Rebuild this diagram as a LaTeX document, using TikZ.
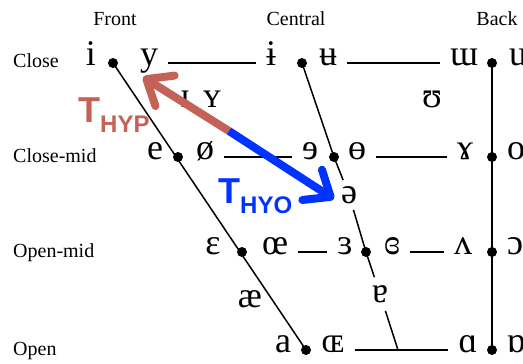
\documentclass[tikz,border=0pt]{standalone}
\usepackage{fontspec}
\setmainfont{Liberation Serif}
\newfontfamily\tagfont{Liberation Sans}
\usetikzlibrary{arrows.meta}
\definecolor{hypred}{RGB}{196,98,88}
\definecolor{hyoblue}{RGB}{0,51,255}
\begin{document}
\begin{tikzpicture}[x=1pt, y=-1pt,
      vow/.style={font=\fontsize{36}{36}\selectfont, anchor=mid, inner ysep=0pt, inner xsep=10pt},
      lbl/.style={font=\fontsize{20}{20}\selectfont, anchor=base west, inner sep=0pt},
      hdr/.style={font=\fontsize{20}{20}\selectfont, anchor=base, inner sep=0pt},
      ln/.style={line width=1.5pt},
      tlbl/.style={font=\tagfont\bfseries\fontsize{36}{36}\selectfont, anchor=base west, inner sep=0pt},
      hyparr/.style={draw=hypred, line width=8pt, -{Straight Barb[length=22pt, width=36pt, round]}},
      hyoarr/.style={draw=hyoblue, line width=8pt, -{Straight Barb[length=22pt, width=36pt, round]}}]
    \useasboundingbox (0,0) rectangle (523,364);
    \node[hdr] (front) at (115,25) {Front};
    \node[hdr] (central) at (296,25) {Central};
    \node[hdr] (back) at (497,25) {Back};
    \node[lbl] (close) at (13,67) {Close};
    \node[lbl] (closemid) at (13,162) {Close-mid};
    \node[lbl] (openmid) at (13,257) {Open-mid};
    \node[lbl] (open) at (13,355) {Open};
    \foreach \n/\x/\y in {f1/113/63, f2/178/157, f3/242/252, f4/306/350, c1/302/63, c2/334/157, c3/366/252, b1/492/63, b2/492/157, b3/492/252, b4/492/350}
      {\coordinate (\n) at (\x,\y); \fill (\n) circle (5pt);}
    \coordinate (c4) at (398,350);
    \node[vow] (vi) at (91,63) {i};
    \node[vow] (vy) at (149,63) {y};
    \node[vow] (ibar) at (271,63) {ɨ};
    \node[vow] (ubar) at (328,63) {ʉ};
    \node[vow] (turnm) at (464,63) {ɯ};
    \node[vow] (vu) at (518,63) {u};
    \node[vow] (smalli) at (185,105) {ɪ};
    \node[vow] (smally) at (212,105) {ʏ};
    \node[vow] (upsilon) at (432,105) {ʊ};
    \node[vow] (ve) at (155,157) {e};
    \node[vow] (oslash) at (205,157) {ø};
    \node[vow] (reve) at (310,157) {ɘ};
    \node[vow] (baro) at (357,157) {ɵ};
    \node[vow] (ramshorn) at (465,157) {ɤ};
    \node[vow] (vo) at (516,157) {o};
    \node[vow, inner sep=6pt] (schwa) at (349,201) {ə};
    \node[vow] (epsilon) at (213,252) {ɛ};
    \node[vow] (smalloe) at (275,252) {œ};
    \node[vow] (reveps) at (345,252) {ɜ};
    \node[vow] (closedeps) at (392,252) {ɞ};
    \node[vow] (turnv) at (463,252) {ʌ};
    \node[vow] (openo) at (515,252) {ɔ};
    \node[vow] (ash) at (250,305) {æ};
    \node[vow, inner sep=8pt] (turna) at (380,300) {ɐ};
    \node[vow] (va) at (283,350) {a};
    \node[vow] (capoe) at (333,350) {ɶ};
    \node[vow] (scripta) at (468,350) {ɑ};
    \node[vow] (turnscripta) at (516,350) {ɒ};
    \draw[ln] (f1) -- (f4);
    \draw[ln] (b1) -- (b4);
    \draw[ln] (c1) -- (c2) -- (schwa);
    \draw[ln] (schwa) -- (c3) -- (turna);
    \draw[ln] (turna) -- (c4);
    \draw[ln] (vy.mid east) -- (ibar.mid west);
    \draw[ln] (ubar.mid east) -- (turnm.mid west);
    \draw[ln] (oslash.mid east) -- (reve.mid west);
    \draw[ln] (baro.mid east) -- (ramshorn.mid west);
    \draw[ln] (smalloe.mid east) -- (reveps.mid west);
    \draw[ln] (closedeps.mid east) -- (turnv.mid west);
    \draw[ln] (capoe.mid east) -- (scripta.mid west);
    \coordinate (split) at (229,131);
    \coordinate (hyptip) at (143,77);
    \coordinate (hyotip) at (334,199);
    \draw[hyparr] (split) -- (hyptip);
    \draw[hyoarr] (split) -- (hyotip);
    \node[tlbl, text=hypred] (thyp) at (78,122) {T\raisebox{-10pt}{\fontsize{24}{24}\selectfont HYP}};
    \node[tlbl, text=hyoblue] (thyo) at (218,203) {T\raisebox{-10pt}{\fontsize{24}{24}\selectfont HYO}};
  \end{tikzpicture}
\end{document}
